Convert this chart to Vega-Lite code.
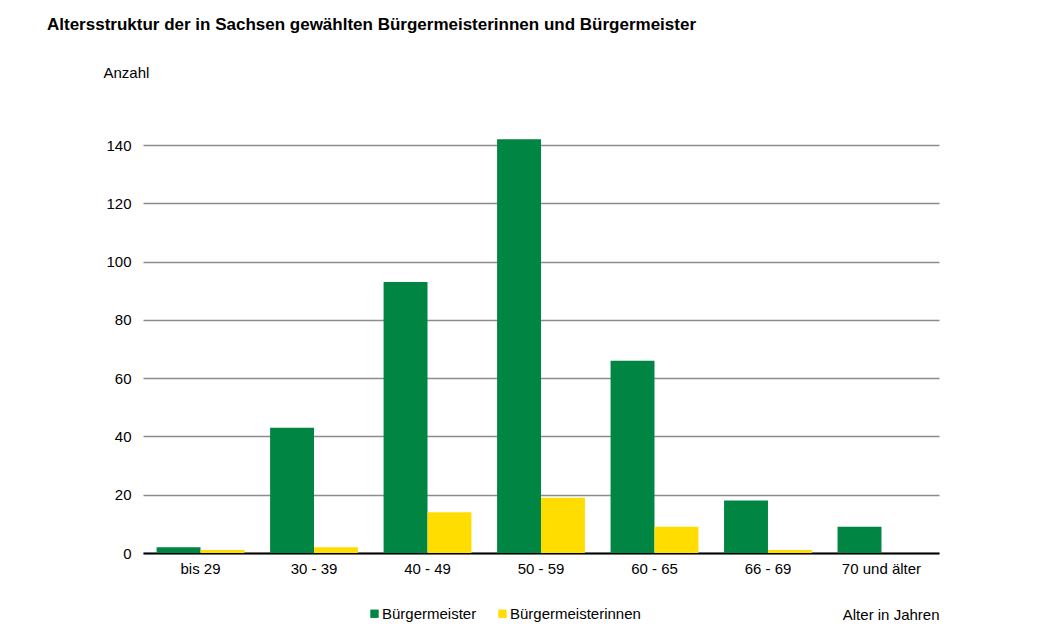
{
  "$schema": "https://vega.github.io/schema/vega-lite/v6.json",
  "autosize": "none",
  "padding": {"left": 143, "top": 116, "right": 109, "bottom": 89},
  "width": 796,
  "height": 437,
  "background": "white",
  "title": {
    "text": "Altersstruktur der in Sachsen gewählten Bürgermeisterinnen und Bürgermeister",
    "anchor": "start",
    "frame": "group",
    "dx": -96,
    "offset": 31,
    "font": "Liberation Sans",
    "fontSize": 17,
    "fontWeight": "bold",
    "color": "black"
  },
  "data": {
    "values": [
      {"Alter": "bis 29", "Gruppe": "Bürgermeister", "Anzahl": 2},
      {"Alter": "bis 29", "Gruppe": "Bürgermeisterinnen", "Anzahl": 1},
      {"Alter": "30 - 39", "Gruppe": "Bürgermeister", "Anzahl": 43},
      {"Alter": "30 - 39", "Gruppe": "Bürgermeisterinnen", "Anzahl": 2},
      {"Alter": "40 - 49", "Gruppe": "Bürgermeister", "Anzahl": 93},
      {"Alter": "40 - 49", "Gruppe": "Bürgermeisterinnen", "Anzahl": 14},
      {"Alter": "50 - 59", "Gruppe": "Bürgermeister", "Anzahl": 142},
      {"Alter": "50 - 59", "Gruppe": "Bürgermeisterinnen", "Anzahl": 19},
      {"Alter": "60 - 65", "Gruppe": "Bürgermeister", "Anzahl": 66},
      {"Alter": "60 - 65", "Gruppe": "Bürgermeisterinnen", "Anzahl": 9},
      {"Alter": "66 - 69", "Gruppe": "Bürgermeister", "Anzahl": 18},
      {"Alter": "66 - 69", "Gruppe": "Bürgermeisterinnen", "Anzahl": 1},
      {"Alter": "70 und älter", "Gruppe": "Bürgermeister", "Anzahl": 9},
      {"Alter": "70 und älter", "Gruppe": "Bürgermeisterinnen", "Anzahl": 0}
    ]
  },
  "mark": {"type": "bar"},
  "encoding": {
    "x": {
      "field": "Alter",
      "type": "nominal",
      "sort": null,
      "scale": {"paddingInner": 0.226, "paddingOuter": 0.12},
      "axis": {
        "title": "Alter in Jahren",
        "titleX": 796,
        "titleY": 66,
        "titleAlign": "right",
        "titleBaseline": "alphabetic",
        "titleFont": "Liberation Sans",
        "titleFontSize": 15,
        "titleFontWeight": "normal",
        "titleColor": "black",
        "labelAngle": 0,
        "labelFont": "Liberation Sans",
        "labelFontSize": 15,
        "labelColor": "black",
        "labelPadding": 8,
        "ticks": false,
        "domainColor": "black",
        "domainWidth": 2,
        "grid": false
      }
    },
    "xOffset": {"field": "Gruppe", "type": "nominal"},
    "y": {
      "field": "Anzahl",
      "type": "quantitative",
      "scale": {"domain": [0, 150], "nice": false},
      "axis": {
        "values": [0, 20, 40, 60, 80, 100, 120, 140],
        "title": "Anzahl",
        "titleAngle": 0,
        "titleX": -40,
        "titleY": -39,
        "titleAlign": "left",
        "titleBaseline": "alphabetic",
        "titleFont": "Liberation Sans",
        "titleFontSize": 15,
        "titleFontWeight": "normal",
        "titleColor": "black",
        "labelFont": "Liberation Sans",
        "labelFontSize": 15,
        "labelColor": "black",
        "labelPadding": 12,
        "ticks": false,
        "domain": false,
        "gridColor": "#8c8c8c",
        "gridWidth": 1.5,
        "gridOpacity": 1
      }
    },
    "color": {
      "field": "Gruppe",
      "type": "nominal",
      "scale": {
        "domain": ["Bürgermeister", "Bürgermeisterinnen"],
        "range": ["#008542", "#ffdd00"]
      },
      "legend": {
        "title": null,
        "orient": "none",
        "legendX": 224,
        "legendY": 490,
        "direction": "horizontal",
        "symbolType": "square",
        "symbolSize": 70,
        "symbolStrokeWidth": 0,
        "labelFont": "Liberation Sans",
        "labelFontSize": 15,
        "labelColor": "black",
        "labelOffset": 0,
        "columnPadding": 18
      }
    }
  },
  "config": {
    "view": {"stroke": null}
  }
}
